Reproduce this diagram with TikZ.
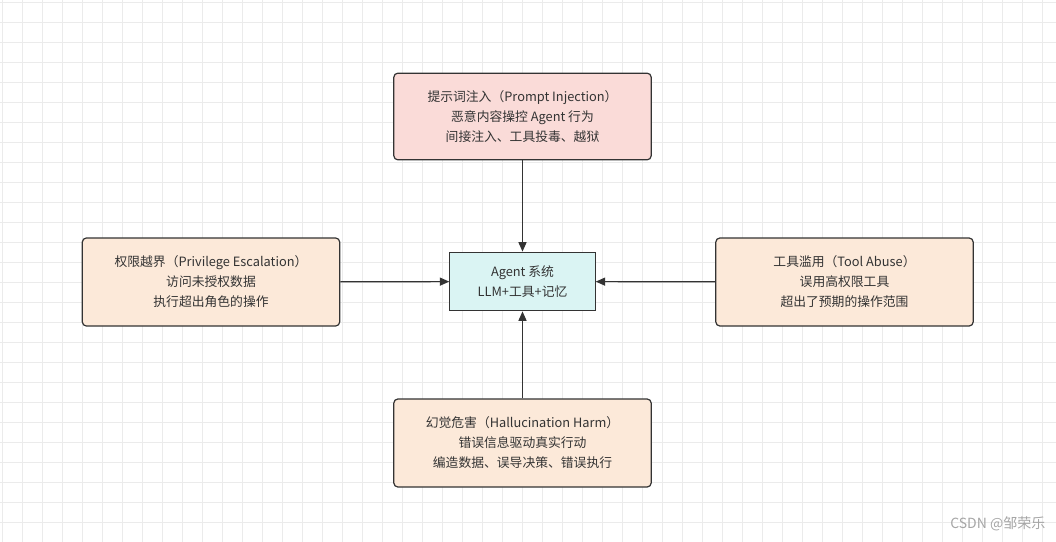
\documentclass[tikz,border=0pt]{standalone}
\usepackage{fontspec}
\setmainfont{Noto Sans CJK SC}
\usetikzlibrary{arrows.meta}
\definecolor{pinkf}{HTML}{FADBD8}
\definecolor{peachf}{HTML}{FCE9D9}
\definecolor{cyanf}{HTML}{DAF4F3}
\definecolor{edge}{HTML}{333333}
\definecolor{gridc}{HTML}{EBEBEB}
\begin{document}
\begin{tikzpicture}[x=0.75pt,y=-0.75pt,
  box/.style={draw=edge,line width=0.9pt,rounded corners=3pt,align=center,text=edge,font=\fontsize{9.6}{15}\selectfont,inner sep=0pt},
  arr/.style={draw=edge,line width=0.9pt,-{Triangle[length=7pt,width=6pt]}}]
\useasboundingbox (0,0) rectangle (1056,542);
\fill[white] (0,0) rectangle (1056,542);
\foreach \i in {0,...,53} \draw[gridc,line width=0.5pt] (\i*20+2,0) -- (\i*20+2,542);
\foreach \i in {0,...,27} \draw[gridc,line width=0.5pt] (0,\i*20+2) -- (1056,\i*20+2);
\node[box,fill=pinkf,minimum width=193pt,minimum height=65pt] (top) at (522.5,116.5) {提示词注入（Prompt Injection）\\恶意内容操控 Agent 行为\\间接注入、工具投毒、越狱};
\node[box,fill=cyanf,rounded corners=0pt,minimum width=109pt,minimum height=44pt] (ctr) at (522.5,281.5) {Agent 系统\\LLM+工具+记忆};
\node[box,fill=peachf,minimum width=193pt,minimum height=66pt] (left) at (211,282) {权限越界（Privilege Escalation）\\访问未授权数据\\执行超出角色的操作};
\node[box,fill=peachf,minimum width=193pt,minimum height=66pt] (right) at (844.5,282) {工具滥用（Tool Abuse）\\误用高权限工具\\超出了预期的操作范围};
\node[box,fill=peachf,minimum width=193pt,minimum height=66pt] (bot) at (522.5,443) {幻觉危害（Hallucination Harm）\\错误信息驱动真实行动\\编造数据、误导决策、错误执行};
\draw[arr] (top) -- (ctr);
\draw[arr] (left) -- (ctr);
\draw[arr] (right) -- (ctr);
\draw[arr] (bot) -- (ctr);
\node[text=gray!70,font=\fontsize{10.5}{12}\selectfont,anchor=east] (wm) at (1050,524) {CSDN @邹荣乐};
\end{tikzpicture}
\end{document}
